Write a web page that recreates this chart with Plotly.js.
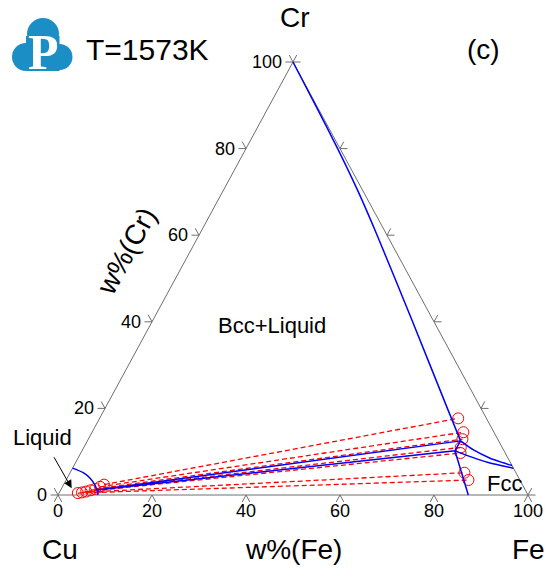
<!DOCTYPE html>
<html>
<head>
<meta charset="utf-8">
<script src="https://cdn.plot.ly/plotly-3.0.1.min.js"></script>
<style>html,body{margin:0;padding:0;background:#fff;}#plot{width:547px;height:571px;}</style>
</head>
<body>
<div id="plot"></div>
<script>
// ---- data (wt%) ----
const tickValues = [0, 20, 40, 60, 80, 100];
const tickLabels = ['0', '20', '40', '60', '80', '100'];

// Bcc / (Bcc+Liquid) boundary
const bccFe = [0, 9.8, 19.5, 28.9, 37.9, 55.1, 73.2, 79.4];
const bccCr = [100, 90, 80, 70, 60, 40.4, 19.6, 12.5];
// Fcc / (Fcc+Liquid) boundary
const fccFe = [79.35, 83.4, 87.3];
const fccCr = [10.2, 5.1, 0];
// gamma loop boundaries (Bcc+Fcc)
const loopUpFe = [79.4, 83.2, 87.7, 91.0, 93.2];
const loopUpCr = [12.5, 10.4, 8.5, 7.45, 6.8];
const loopLoFe = [79.35, 83.5, 87.8, 91.4, 93.8];
const loopLoCr = [10.2, 8.8, 7.5, 6.7, 6.2];
// liquidus
const liqFe = [0, 2.8, 4.9, 6.7, 7.6, 8.1, 8.45];
const liqCr = [6.2, 5.15, 3.86, 2.31, 1.3, 0.7, 0];
// three-phase triangle Liquid - Bcc - Fcc
const triFe = [7.7, 79.4, 79.35, 7.7];
const triCr = [1.15, 12.5, 10.2, 1.15];
// tie-lines
const tieLiqFe = [8.6, 8.0, 7.2, 6.4, 5.6, 4.8, 4.0];
const tieLiqCr = [2.4, 1.9, 1.4, 1.1, 0.8, 0.6, 0.45];
const tieSolFe = [76.3, 79.0, 79.6, 80.2, 80.8, 83.9, 85.6];
const tieSolCr = [17.7, 14.5, 12.9, 11.0, 9.7, 5.15, 3.46];

// ---- geometry helpers ----
const PX0 = 58, PY0 = 495, SX = 4.7, SY = 4.33;
const dX = px => (px - PX0) / SX;
const dY = py => (PY0 - py) / SY;
const tX = (fe, cr) => fe + cr / 2;
const mapX = (fe, cr) => fe.map((f, i) => tX(f, cr[i]));

const gray = '#6e6e6e', blue = '#0000ff', red = '#ff0000';
const traces = [];

// triangle
traces.push({x: [tX(0,0), tX(100,0), tX(0,100), tX(0,0)], y: [0, 0, 100, 0],
  mode: 'lines', line: {color: gray, width: 1}, hoverinfo: 'skip'});

// ticks
const L = 1.6;
const tk = {x: [], y: []};
function seg(x0, y0, dx, dy) { tk.x.push(x0, x0 + dx, null); tk.y.push(y0, y0 + dy, null); }
tickValues.forEach(v => {
  seg(tX(v, 0), 0, -0.5 * L, -L); seg(tX(v, 0), 0, 0.5 * L, -L);         // bottom (Fe)
  seg(tX(0, v), v, -L, 0); seg(tX(0, v), v, -0.5 * L, L);                 // left (Cr)
  seg(tX(100 - v, v), v, L, 0); seg(tX(100 - v, v), v, 0.5 * L, L);       // right
});
traces.push({x: tk.x, y: tk.y, mode: 'lines', line: {color: gray, width: 1}, hoverinfo: 'skip'});

// tie-lines
const tl = {x: [], y: []};
tieLiqFe.forEach((f, i) => {
  tl.x.push(tX(f, tieLiqCr[i]), tX(tieSolFe[i], tieSolCr[i]), null);
  tl.y.push(tieLiqCr[i], tieSolCr[i], null);
});
traces.push({x: tl.x, y: tl.y, mode: 'lines', line: {color: red, width: 1.3, dash: '5px,3px'}, hoverinfo: 'skip'});
traces.push({x: mapX(tieLiqFe, tieLiqCr).concat(mapX(tieSolFe, tieSolCr)), y: tieLiqCr.concat(tieSolCr),
  mode: 'markers', marker: {symbol: 'circle-open', size: 11, color: red, line: {width: 1, color: red}}, hoverinfo: 'skip'});

// phase boundaries
[[bccFe, bccCr, 'spline'], [fccFe, fccCr, 'linear'], [loopUpFe, loopUpCr, 'spline'], [loopLoFe, loopLoCr, 'spline'],
 [liqFe, liqCr, 'spline'], [triFe, triCr, 'linear']].forEach(([f, c, s]) => {
  traces.push({x: mapX(f, c), y: c, mode: 'lines', line: {color: blue, width: 1.5, shape: s, smoothing: 0.6}, hoverinfo: 'skip'});
});

// ---- annotations ----
const FONT = 'Liberation Sans, Arial, sans-serif';
const ann = [];
function txt(px, py, text, size, extra) {
  ann.push(Object.assign({x: dX(px), y: dY(py), xref: 'x', yref: 'y', text: text, showarrow: false,
    font: {family: FONT, size: size, color: '#000'}}, extra || {}));
}
tickValues.forEach((v, i) => {
  ann.push({x: tX(v, 0), y: dY(511), xref: 'x', yref: 'y', text: tickLabels[i], showarrow: false,
    font: {family: FONT, size: 18, color: '#000'}});
  ann.push({x: tX(0, v), y: v, xref: 'x', yref: 'y', text: tickLabels[i], showarrow: false, xanchor: 'right', xshift: -9,
    font: {family: FONT, size: 18, color: '#000'}});
});
txt(295, 17, 'Cr', 28);
txt(60, 549, 'Cu', 28);
txt(293, 549, 'w%(Fe)', 28);
txt(528, 549, 'Fe', 28);
txt(126, 251, 'w%(Cr)', 28, {textangle: -61.5});
txt(483, 49, '(c)', 28);
txt(84, 49, 'T=1573K', 30, {xanchor: 'left'});
txt(272, 325, 'Bcc+Liquid', 22);
txt(42, 437, 'Liquid', 22);
txt(504, 483, 'Fcc', 22);
// arrow to liquid
ann.push({x: dX(71.7), y: dY(488.3), xref: 'x', yref: 'y', text: '', showarrow: true, ax: -18.5, ay: -32.5,
  arrowhead: 2, arrowsize: 1.6, arrowwidth: 1, arrowcolor: '#000'});
// logo P
ann.push({x: dX(43), y: dY(52), xref: 'x', yref: 'y', text: '<b>P</b>', showarrow: false,
  font: {family: 'Liberation Serif, DejaVu Serif, serif', size: 50, color: '#fff'}});

// ---- logo shapes ----
const logoBlue = '#1b8ec6';
function circ(cx, cy, r) {
  return {type: 'circle', xref: 'x', yref: 'y', x0: dX(cx - r), x1: dX(cx + r), y0: dY(cy + r), y1: dY(cy - r),
    fillcolor: logoBlue, line: {width: 0}, layer: 'below'};
}
const shapes = [circ(43, 34, 16), circ(26, 57, 14), circ(59.5, 57, 13),
  {type: 'rect', xref: 'x', yref: 'y', x0: dX(26), x1: dX(59.5), y0: dY(71), y1: dY(36),
    fillcolor: logoBlue, line: {width: 0}, layer: 'below'}];

const layout = {
  width: 547, height: 571, margin: {l: 0, r: 0, t: 0, b: 0},
  paper_bgcolor: '#fff', plot_bgcolor: '#fff', showlegend: false,
  xaxis: {range: [dX(0), dX(547)], visible: false, fixedrange: true},
  yaxis: {range: [dY(571), dY(0)], visible: false, fixedrange: true},
  annotations: ann, shapes: shapes,
  font: {family: FONT}
};
Plotly.newPlot('plot', traces, layout, {staticPlot: true, displayModeBar: false});
</script>
</body>
</html>
